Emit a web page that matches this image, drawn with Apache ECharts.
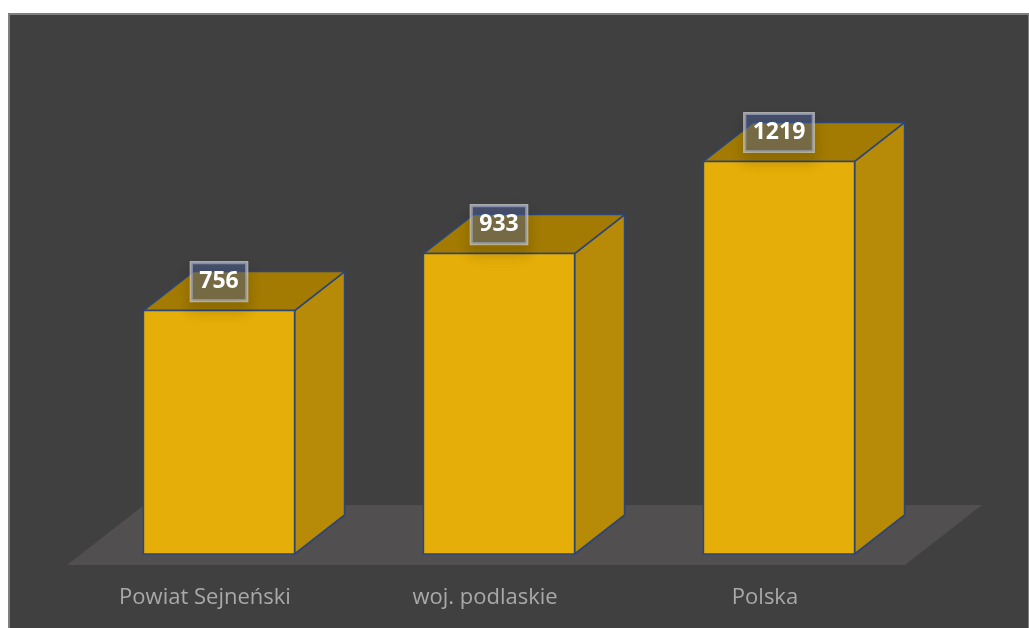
<!DOCTYPE html>
<html>
<head>
<meta charset="utf-8">
<script src="https://cdn.jsdelivr.net/npm/echarts@6/dist/echarts.min.js"></script>
<style>
  html, body { margin: 0; padding: 0; background: #ffffff; }
  #frame {
    position: absolute; left: 8px; top: 13px;
    width: 1018px; height: 615px;
    border: 2px solid #7f7f7f; border-bottom: none;
    background: #404040;
  }
  #chart { width: 1018px; height: 615px; }
</style>
</head>
<body>
<div id="frame"><div id="chart"></div></div>
<script>
// Categories and values
const categories = ['Powiat Sejneński', 'woj. podlaskie', 'Polska'];
const values = [756, 933, 1219];

// 3D look: depth vector of each box
const DEPTH = [50, -39];

const chart = echarts.init(document.getElementById('chart'));

// Grey floor slab under the boxes
function renderFloor(params, api) {
  const cs = params.coordSys;
  const zeroY = api.coord([0, 0])[1];
  const fy = zeroY + 11, by = zeroY - 49;
  const fl = cs.x - 12, fr = cs.x + cs.width - 14;
  const sx = 77;
  return {
    type: 'polygon',
    shape: { points: [[fl, fy], [fr, fy], [fr + sx, by], [fl + sx, by]] },
    style: { fill: '#514f4f' },
    silent: true
  };
}

// One box per category: back edges, side, top, front and the value tag
function renderBar(params, api) {
  const cat = api.value(0), val = api.value(1);
  const top = api.coord([cat, val]);
  const base = api.coord([cat, 0]);
  const w = api.size([1, 0])[0] * 0.54;
  const [dx, dy] = DEPTH;
  const x0 = top[0] - w / 2, x1 = top[0] + w / 2;
  const yT = top[1], yB = base[1];
  const edge = { stroke: '#2c4677', lineWidth: 1.6, lineJoin: 'round' };
  return {
    type: 'group',
    children: [
      {
        type: 'polyline',
        shape: { points: [[x0, yB], [x0 + dx, yB + dy], [x1 + dx, yB + dy]] },
        style: { stroke: 'rgba(190,140,0,0.55)', lineWidth: 1, fill: null }
      },
      {
        type: 'line',
        shape: { x1: x0 + dx, y1: yB + dy, x2: x0 + dx, y2: yT + dy },
        style: { stroke: 'rgba(190,140,0,0.55)', lineWidth: 1 }
      },
      {
        type: 'polygon',
        shape: { points: [[x1, yT], [x1 + dx, yT + dy], [x1 + dx, yB + dy], [x1, yB]] },
        style: Object.assign({ fill: '#b78a07' }, edge)
      },
      {
        type: 'polygon',
        shape: { points: [[x0, yT], [x0 + dx, yT + dy], [x1 + dx, yT + dy], [x1, yT]] },
        style: Object.assign({ fill: '#a37b02' }, edge)
      },
      {
        type: 'rect',
        shape: { x: x0, y: yT, width: w, height: yB - yT },
        style: Object.assign({ fill: '#e6ae08' }, edge)
      },
      {
        type: 'text',
        x: top[0],
        y: yT - 29,
        z2: 10,
        style: {
          text: String(val),
          fill: '#ffffff',
          font: 'bold 23px "Open Sans", "DejaVu Sans", sans-serif',
          align: 'center',
          verticalAlign: 'middle',
          backgroundColor: 'rgba(80,105,170,0.4)',
          borderColor: 'rgba(220,220,220,0.7)',
          borderWidth: 1.6,
          padding: [8, 8, 7, 8],
          shadowColor: 'rgba(0,0,0,0.3)',
          shadowBlur: 14,
          shadowOffsetY: 9
        }
      }
    ]
  };
}

chart.setOption({
  backgroundColor: '#404040',
  animation: false,
  grid: { left: 69, right: 109, top: 56, bottom: 76 },
  xAxis: {
    type: 'category',
    data: categories,
    axisLine: { show: false },
    axisTick: { show: false },
    axisLabel: {
      color: '#a9a9a9',
      fontSize: 22,
      fontFamily: '"Open Sans", "Noto Sans", sans-serif',
      margin: 33,
      padding: [0, 28, 0, 0]
    }
  },
  yAxis: {
    type: 'value',
    min: 0,
    max: 1500,
    show: false,
    splitLine: { show: false }
  },
  series: [
    {
      type: 'custom',
      name: 'floor',
      renderItem: renderFloor,
      data: [[0, 0]],
      silent: true,
      z: 1
    },
    {
      type: 'custom',
      name: 'values',
      renderItem: renderBar,
      data: categories.map((c, i) => [i, values[i]]),
      z: 2
    }
  ]
});
</script>
</body>
</html>
